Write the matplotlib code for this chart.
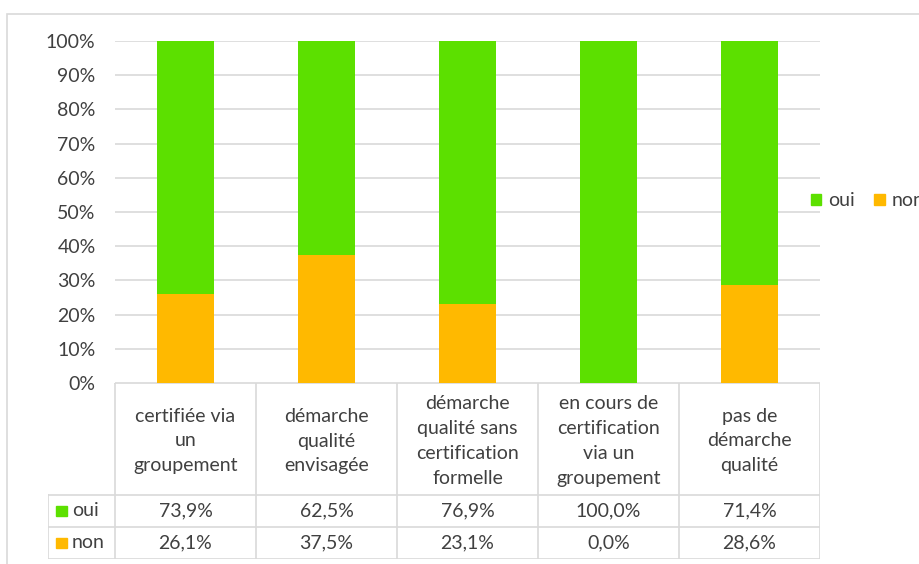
import matplotlib
matplotlib.use("Agg")
import matplotlib.pyplot as plt
from matplotlib.patches import Rectangle, Patch
from matplotlib.ticker import PercentFormatter

categories = [
    "certifiée via\nun\ngroupement",
    "démarche\nqualité\nenvisagée",
    "démarche\nqualité sans\ncertification\nformelle",
    "en cours de\ncertification\nvia un\ngroupement",
    "pas de\ndémarche\nqualité",
]
oui = [73.9, 62.5, 76.9, 100.0, 71.4]
non = [26.1, 37.5, 23.1, 0.0, 28.6]
series_names = ["oui", "non"]

GREEN = "#5CE000"
ORANGE = "#FFB900"
TXT = "#404040"
GRID = "#D9D9D9"
FS = 14

plt.rcParams['font.family'] = ['Lato', 'DejaVu Sans']

W, H = 920, 564
fig = plt.figure(figsize=(W / 100, H / 100), dpi=100)

# outer chart frame
fig.patches.append(Rectangle((7 / W, -0.1), 1.2, 1 - 14 / H + 0.1, transform=fig.transFigure,
                             fill=False, edgecolor=GRID, linewidth=1.2))

x0, x1 = 115, 820
y_top, y_zero = 41, 383
ax = fig.add_axes([x0 / W, 1 - y_zero / H, (x1 - x0) / W, (y_zero - y_top) / H])

n = len(categories)
xs = list(range(n))
ax.bar(xs, non, width=0.4, color=ORANGE, zorder=2)
ax.bar(xs, oui, width=0.4, bottom=non, color=GREEN, zorder=2)
ax.set_xlim(-0.5, n - 0.5)
ax.set_ylim(0, 100)
ax.set_yticks(range(0, 101, 10))
ax.yaxis.set_major_formatter(PercentFormatter(decimals=0))
ax.tick_params(axis='y', length=0, pad=14, labelsize=FS, labelcolor=TXT)
ax.set_xticks([])
ax.grid(axis='y', color=GRID, linewidth=1.2, zorder=0)
for s in ax.spines.values():
    s.set_visible(False)

# data table below
tb_bottom = 559
left_col = 48
cat_w = (x1 - x0) / n
ext = (x0 - left_col) / cat_w
tax = fig.add_axes([left_col / W, 1 - tb_bottom / H, (x1 - left_col) / W, (tb_bottom - y_zero) / H])
tax.set_xlim(-0.5 - ext, n - 0.5)
tax.set_ylim(tb_bottom - y_zero, 0)
tax.axis('off')
hdr = 112
row_h = 32
lc = dict(color=GRID, linewidth=1.2)
tax.plot([-0.5, n - 0.5], [0, 0], **lc)
for k in range(n + 1):
    tax.plot([k - 0.5, k - 0.5], [0, hdr + 2 * row_h], **lc)
tax.plot([-0.5 - ext, -0.5 - ext], [hdr, hdr + 2 * row_h], **lc)
for r in range(3):
    tax.plot([-0.5 - ext, n - 0.5], [hdr + r * row_h] * 2, **lc)

for i, c in enumerate(categories):
    tax.text(i, hdr / 2 + 2, c, ha='center', va='center', fontsize=FS, color=TXT, linespacing=1.55)
rows = [oui, non]
cols = [GREEN, ORANGE]
for r, (vals, name, col) in enumerate(zip(rows, series_names, cols)):
    yc = hdr + r * row_h + row_h / 2
    for i, v in enumerate(vals):
        tax.text(i, yc, f"{v:.1f}%".replace('.', ','), ha='center', va='center', fontsize=FS, color=TXT)
    tax.add_patch(Rectangle((-0.5 - ext + 0.06, yc - 5), 0.075, 10, color=col, clip_on=False))
    tax.text(-0.5 - ext + 0.17, yc, name, ha='left', va='center', fontsize=FS, color=TXT)

# legend on the right
handles = [Patch(color=GREEN), Patch(color=ORANGE)]
fig.legend(handles, series_names, loc='center left', bbox_to_anchor=(803 / W, 1 - 201 / H),
           ncol=2, frameon=False, fontsize=FS, handlelength=0.55, handleheight=0.55,
           handletextpad=0.35, columnspacing=1.0, labelcolor=TXT, borderaxespad=0)

fig.savefig("out.png", dpi=100)
